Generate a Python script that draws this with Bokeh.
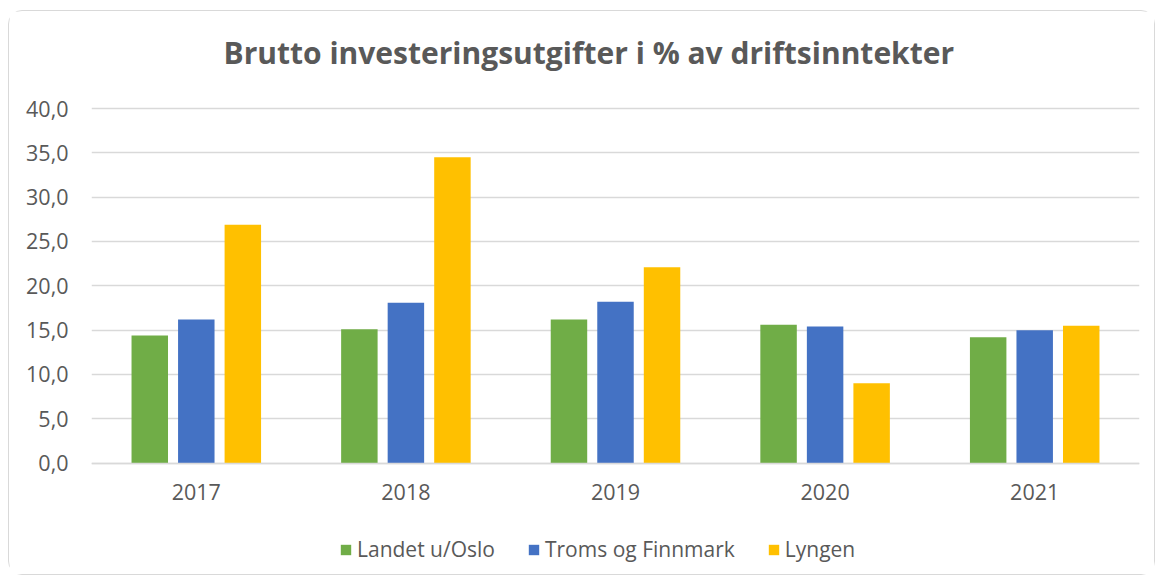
from bokeh.plotting import figure
from bokeh.models import (ColumnDataSource, FactorRange, Legend, LegendItem,
                          CustomJSTickFormatter, Range1d, FixedTicker)
from bokeh.transform import dodge
from bokeh.embed import file_html
from bokeh.resources import INLINE

# ---- data ----
years = ["2017", "2018", "2019", "2020", "2021"]
landet = [14.4, 15.1, 16.2, 15.6, 14.2]
troms = [16.2, 18.1, 18.2, 15.4, 15.0]
lyngen = [26.9, 34.5, 22.1, 9.0, 15.5]
series_names = ["Landet u/Oslo", "Troms og Finnmark", "Lyngen"]
y_ticks = [0, 5, 10, 15, 20, 25, 30, 35, 40]
title_text = "Brutto investeringsutgifter i % av driftsinntekter"

colors = ["#70AD47", "#4472C4", "#FFC000"]
FONT = "Open Sans"
TXT = "#595959"

# layout (page pixels): frame spans from under the title to the legend area
FRAME_TOP, FRAME_BOT = 91.5, 564.5
G40, G0 = 109.5, 463.3
ppu = (G0 - G40) / 40.0
y_end = 40 + (G40 - FRAME_TOP) / ppu
y_start = -(FRAME_BOT - G0) / ppu

src = ColumnDataSource(dict(year=years, landet=landet, troms=troms, lyngen=lyngen))

p = figure(x_range=FactorRange(*years, range_padding=0), y_range=Range1d(y_start, y_end),
           width=1147, height=565, output_backend="svg", toolbar_location=None,
           min_border_left=82, min_border_right=17, min_border_top=0,
           min_border_bottom=12)
p.styles = {"border": "1.5px solid #d9d9d9", "border-radius": "14px",
            "margin-left": "8px", "margin-top": "10px"}
p.outline_line_color = None

p.title.text = title_text
p.title.align = "left"
p.title.text_font = FONT
p.title.text_font_size = "30px"
p.title.text_font_style = "bold"
p.title.text_color = TXT
p.title.standoff = 36
p.title.offset = 132

bw = 0.174
off = 0.222
renderers = []
for key, dx, c in zip(["landet", "troms", "lyngen"], [-off, 0, off], colors):
    r = p.vbar(x=dodge("year", dx, range=p.x_range), top=key, width=bw, source=src,
               fill_color=c, line_color=None)
    renderers.append(r)

# axes
p.yaxis.ticker = FixedTicker(ticks=y_ticks)
p.yaxis.formatter = CustomJSTickFormatter(code="return tick.toFixed(1).replace('.', ',');")
p.yaxis.axis_line_color = None
p.yaxis.major_tick_line_color = None
p.yaxis.major_tick_out = 0
p.yaxis.major_tick_in = 0
p.yaxis.minor_tick_line_color = None
p.yaxis.major_label_standoff = 23
p.yaxis.major_label_text_font = FONT
p.yaxis.major_label_text_font_size = "21.5px"
p.yaxis.major_label_text_color = TXT

p.xaxis.fixed_location = 0
p.xaxis.axis_line_color = "#d9d9d9"
p.xaxis.axis_line_width = 1.5
p.xaxis.major_tick_line_color = None
p.xaxis.major_tick_out = 0
p.xaxis.major_tick_in = 0
p.xaxis.minor_tick_line_color = None
p.xaxis.major_label_standoff = 21
p.xaxis.major_label_text_font = FONT
p.xaxis.major_label_text_font_size = "21.5px"
p.xaxis.major_label_text_color = TXT

p.xgrid.grid_line_color = None
p.ygrid.grid_line_color = "#d9d9d9"
p.ygrid.grid_line_width = 1.5

legend = Legend(items=[LegendItem(label=n, renderers=[r]) for n, r in zip(series_names, renderers)],
                orientation="horizontal", location=(248, 1),
                glyph_width=13, glyph_height=13, label_standoff=5, spacing=32,
                label_text_font=FONT, label_text_font_size="21px", label_text_color=TXT,
                border_line_color=None, background_fill_alpha=0, padding=0, margin=0)
p.add_layout(legend)

open("out.html", "w").write(file_html(p, INLINE))
